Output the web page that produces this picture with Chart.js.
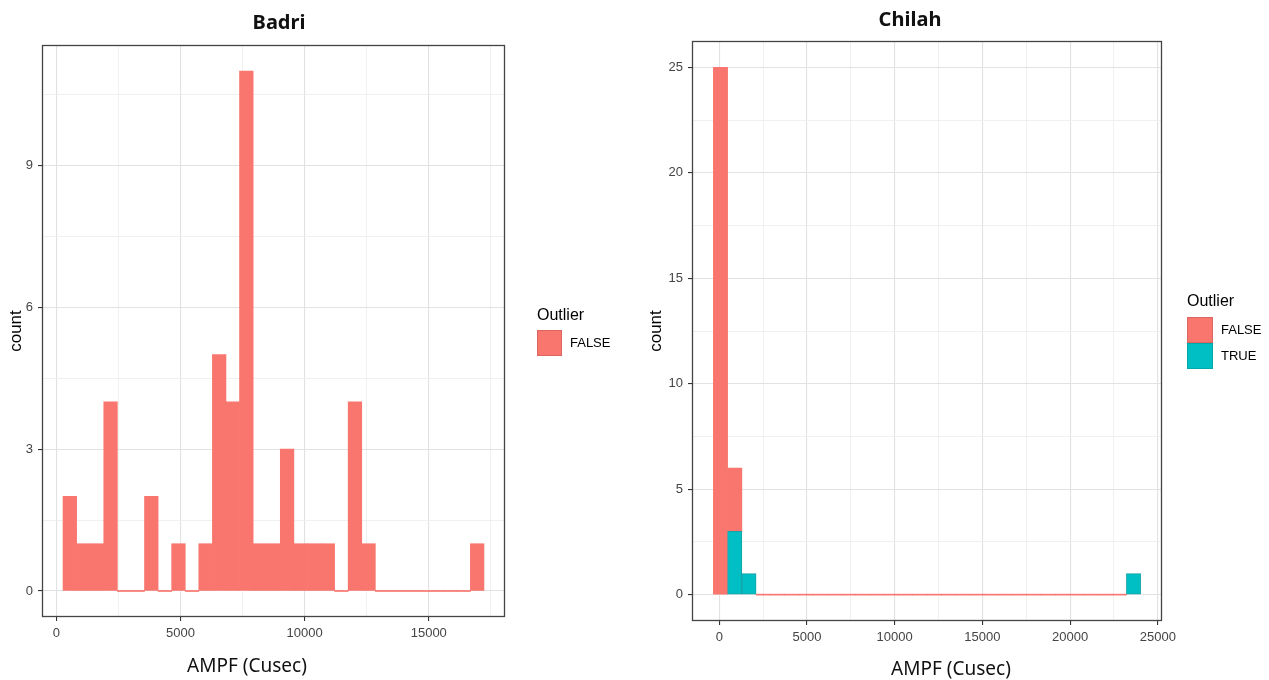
<!DOCTYPE html>
<html>
<head>
<meta charset="utf-8">
<script src="https://cdn.jsdelivr.net/npm/chart.js@4"></script>
<style>
  html, body { margin: 0; padding: 0; background: #ffffff; }
  #wrap { position: relative; width: 1269px; height: 680px; overflow: hidden; background: #ffffff; }
  canvas { position: absolute; top: 0; }
  #badri { left: 0; }
  #chilah { left: 640px; }
</style>
</head>
<body>
<div id="wrap">
  <canvas id="badri" width="640" height="680"></canvas>
  <canvas id="chilah" width="629" height="680"></canvas>
</div>
<script>
// ---- Badri: annual maximum peak flow histogram (31 bins) ----
const badriBinStart = 266;
const badriBinWidth = 547;
const badriCounts = [2, 1, 1, 4, 0, 0, 2, 0, 1, 0, 1, 5, 4, 11, 1, 1, 3, 1, 1, 1, 0, 4, 1, 0, 0, 0, 0, 0, 0, 0, 1];
const badriXTicks = [0, 5000, 10000, 15000];
const badriYTicks = [0, 3, 6, 9];

// ---- Chilah: histogram (30 bins) split by outlier flag ----
const chilahBinStart = -338;
const chilahBinWidth = 812;
const chilahFalse = [25, 3, 0, 0, 0, 0, 0, 0, 0, 0, 0, 0, 0, 0, 0, 0, 0, 0, 0, 0, 0, 0, 0, 0, 0, 0, 0, 0, 0, 0];
const chilahTrue  = [0, 3, 1, 0, 0, 0, 0, 0, 0, 0, 0, 0, 0, 0, 0, 0, 0, 0, 0, 0, 0, 0, 0, 0, 0, 0, 0, 0, 0, 1];
const chilahXTicks = [0, 5000, 10000, 15000, 20000, 25000];
const chilahYTicks = [0, 5, 10, 15, 20, 25];

const outlierLevels = ['FALSE', 'TRUE'];
const outlierColors = ['#F8766D', '#00BFC4'];

const TICK_FONT = { family: '"Liberation Sans", Arial, sans-serif', size: 13 };
const MAJOR_GRID = '#e2e2e2';
const MINOR_GRID = '#eeeeee';

function binCentres(start, width, n) {
  return Array.from({ length: n }, (_, i) => start + width * (i + 0.5));
}

// ggplot-style 5% expansion of the binned range
function expanded(start, width, n) {
  const span = width * n;
  return { min: start - 0.05 * span, max: start + span + 0.05 * span };
}

function expandedCounts(maxCount) {
  return { min: -0.05 * maxCount, max: maxCount * 1.05 };
}

// Linear axis with labelled major ticks and unlabelled minor grid lines half-way between
function gridAxis(majors, range, fixedSize, isX, title) {
  const step = majors[1] - majors[0];
  const values = [];
  if (majors[0] - step / 2 >= range.min) values.push(majors[0] - step / 2);
  majors.forEach(m => {
    values.push(m);
    if (m + step / 2 <= range.max) values.push(m + step / 2);
  });
  const isMajor = v => majors.includes(v);
  const majorCtx = c => c.tick && isMajor(c.tick.value);
  const axis = {
    type: 'linear',
    min: range.min,
    max: range.max,
    offset: false,
    stacked: true,
    afterBuildTicks: s => { s.ticks = values.map(v => ({ value: v })); },
    afterFit: s => { if (isX) s.height = fixedSize; else s.width = fixedSize; },
    grid: {
      offset: false,
      drawOnChartArea: true,
      color: c => majorCtx(c) ? MAJOR_GRID : MINOR_GRID,
      lineWidth: c => majorCtx(c) ? 1.1 : 0.9,
      drawTicks: true,
      tickLength: 4,
      tickWidth: 1.1,
      tickColor: c => majorCtx(c) ? '#333333' : 'rgba(0,0,0,0)'
    },
    border: { display: false },
    ticks: {
      autoSkip: false,
      maxRotation: 0,
      minRotation: 0,
      padding: 5,
      color: '#444444',
      font: TICK_FONT,
      callback: v => isMajor(v) ? String(v) : ''
    }
  };
  if (title) {
    axis.title = {
      display: true,
      text: title,
      color: '#000000',
      font: { family: '"Liberation Sans", Arial, sans-serif', size: 17 },
      padding: { top: 6, bottom: 0 }
    };
  }
  return axis;
}

// Panel border drawn above the bars
const panelFrame = {
  id: 'panelFrame',
  afterDatasetsDraw(chart) {
    const { ctx, chartArea: a } = chart;
    ctx.save();
    ctx.strokeStyle = '#444444';
    ctx.lineWidth = 1.3;
    ctx.strokeRect(Math.round(a.left) + 0.5, Math.round(a.top) + 0.5,
                   Math.round(a.right - a.left) - 1, Math.round(a.bottom - a.top) - 1);
    ctx.restore();
  }
};

// Panel heading and x-axis caption
function captions(cfg) {
  return {
    id: 'captions',
    afterDraw(chart) {
      const { ctx, chartArea: a } = chart;
      const cx = (a.left + a.right) / 2;
      ctx.save();
      ctx.textAlign = 'center';
      ctx.textBaseline = 'alphabetic';
      ctx.fillStyle = '#111111';
      ctx.font = 'bold 20px "Noto Sans", "Open Sans", sans-serif';
      ctx.fillText(cfg.title, cx + cfg.titleDx, cfg.titleBase);
      ctx.font = '19px "Noto Sans", "Open Sans", sans-serif';
      ctx.fillText(cfg.xTitle, cx + cfg.xTitleDx, cfg.xTitleBase);
      ctx.restore();
    }
  };
}

// Fill legend for the outlier flag, listed in level order
function outlierLegend(cfg) {
  return {
    id: 'outlierLegend',
    afterDraw(chart) {
      const { ctx, chartArea: a } = chart;
      const items = chart.data.datasets
        .map(ds => ({ label: ds.label, color: ds.backgroundColor }))
        .sort((p, q) => outlierLevels.indexOf(p.label) - outlierLevels.indexOf(q.label));
      const x = a.right + cfg.dx;
      ctx.save();
      ctx.fillStyle = '#000000';
      ctx.textAlign = 'left';
      ctx.textBaseline = 'middle';
      ctx.font = '16px "Liberation Sans", Arial, sans-serif';
      ctx.fillText('Outlier', x, cfg.titleY);
      items.forEach((it, i) => {
        const y = cfg.keyY + i * cfg.keyH;
        ctx.fillStyle = it.color;
        ctx.fillRect(x, y, cfg.keyW, cfg.keyH);
        ctx.strokeStyle = 'rgba(0,0,0,0.12)';
        ctx.lineWidth = 1;
        ctx.strokeRect(x + 0.5, y + 0.5, cfg.keyW - 1, cfg.keyH - 1);
        ctx.fillStyle = '#000000';
        ctx.font = '13px "Liberation Sans", Arial, sans-serif';
        ctx.fillText(it.label, x + cfg.keyW + 8, y + cfg.keyH / 2 + 0.5);
      });
      ctx.restore();
    }
  };
}

function barSet(label, color, centres, counts, keep) {
  return {
    label,
    data: centres.map((x, i) => ({ x, y: keep(i) ? counts[i] : null })),
    backgroundColor: color,
    borderColor: color,
    borderWidth: 0,
    barPercentage: 1,
    categoryPercentage: 1,
    minBarLength: 1
  };
}

// ---- Badri chart ----
const badriCentres = binCentres(badriBinStart, badriBinWidth, badriCounts.length);
new Chart(document.getElementById('badri'), {
  type: 'bar',
  data: {
    datasets: [barSet(outlierLevels[0], outlierColors[0], badriCentres, badriCounts, () => true)]
  },
  options: {
    responsive: false,
    animation: false,
    devicePixelRatio: 1,
    layout: { padding: { left: 0, top: 45, right: 135, bottom: 0 } },
    plugins: { legend: { display: false }, tooltip: { enabled: false } },
    scales: {
      x: gridAxis(badriXTicks, expanded(badriBinStart, badriBinWidth, badriCounts.length), 63, true),
      y: gridAxis(badriYTicks, expandedCounts(Math.max(...badriCounts)), 42, false, 'count')
    }
  },
  plugins: [
    panelFrame,
    captions({ title: 'Badri', titleDx: 5.5, titleBase: 29, xTitle: 'AMPF (Cusec)', xTitleDx: -26.5, xTitleBase: 672 }),
    outlierLegend({ dx: 32, titleY: 316, keyY: 330, keyW: 25, keyH: 26 })
  ]
});

// ---- Chilah chart ----
const chilahCentres = binCentres(chilahBinStart, chilahBinWidth, chilahFalse.length);
const chilahTotals = chilahFalse.map((v, i) => v + chilahTrue[i]);
new Chart(document.getElementById('chilah'), {
  type: 'bar',
  data: {
    datasets: [
      // TRUE sits at the bottom of each stack, FALSE above it
      Object.assign(barSet(outlierLevels[1], outlierColors[1], chilahCentres, chilahTrue, i => chilahTrue[i] > 0),
                    { borderColor: '#16a2a6', borderWidth: 1, borderSkipped: false }),
      barSet(outlierLevels[0], outlierColors[0], chilahCentres, chilahFalse, i => chilahFalse[i] > 0 || chilahTrue[i] === 0)
    ]
  },
  options: {
    responsive: false,
    animation: false,
    devicePixelRatio: 1,
    layout: { padding: { left: 0, top: 41, right: 107, bottom: 0 } },
    plugins: { legend: { display: false }, tooltip: { enabled: false } },
    scales: {
      x: gridAxis(chilahXTicks, expanded(chilahBinStart, chilahBinWidth, chilahFalse.length), 59, true),
      y: gridAxis(chilahYTicks, expandedCounts(Math.max(...chilahTotals)), 52, false, 'count')
    }
  },
  plugins: [
    panelFrame,
    captions({ title: 'Chilah', titleDx: -17, titleBase: 26, xTitle: 'AMPF (Cusec)', xTitleDx: 24, xTitleBase: 675 }),
    outlierLegend({ dx: 25, titleY: 302, keyY: 317, keyW: 26, keyH: 26 })
  ]
});
</script>
</body>
</html>
